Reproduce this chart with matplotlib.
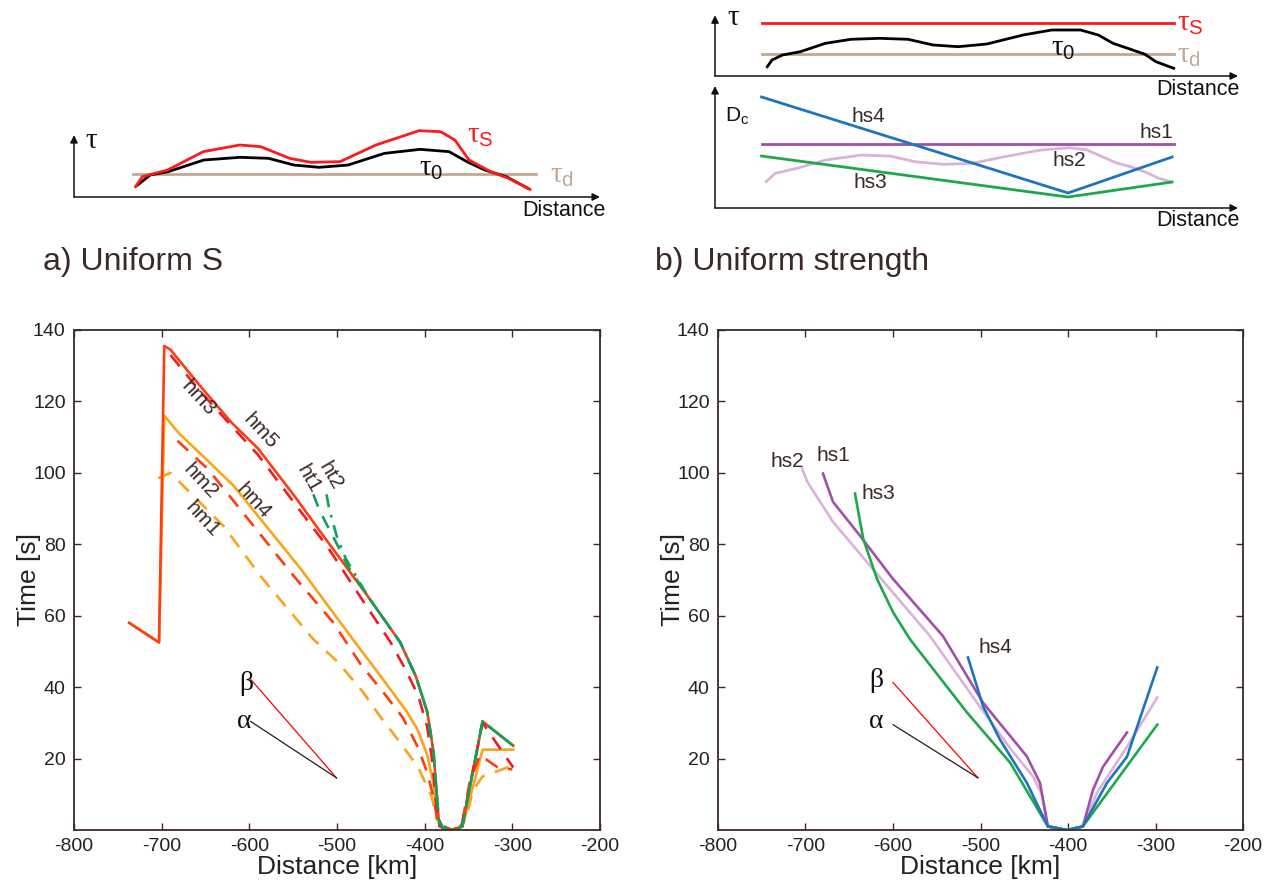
import numpy as np
import matplotlib
matplotlib.use("Agg")
import matplotlib.pyplot as plt

plt.rcParams['font.family'] = ['Liberation Sans', 'DejaVu Sans']
plt.rcParams['axes.unicode_minus'] = False
plt.rcParams['mathtext.fontset'] = 'custom'
plt.rcParams['mathtext.rm'] = 'Liberation Serif'
plt.rcParams['mathtext.it'] = 'Liberation Serif:italic'
plt.rcParams['mathtext.sf'] = 'Liberation Sans'

ink = '#3a2a25'
red = '#ff3c12'
red2 = '#ee1c24'
orange = '#faa41a'
tgreen = '#12a05c'
green = '#1fa84a'
blue = '#1f74c0'
purple = '#a050aa'
lilac = '#dbb2da'
tan = '#c2a892'

# ---- schematic a) : tau_s, tau_0 and tau_d along distance (arbitrary units 0-100, 0-10)
sa_x_taus = [11.7, 13.0, 17.8, 24.6, 31.5, 35.5, 41.0, 45.1, 50.6, 57.4, 65.6, 69.7, 72.4, 75.1, 79.2, 82.6, 86.7]
sa_y_taus = [1.43, 2.82, 3.75, 6.30, 7.22, 6.99, 5.37, 4.81, 4.91, 7.22, 9.21, 9.07, 7.92, 5.14, 3.52, 2.59, 1.06]
sa_x_tau0 = [12.1, 14.5, 17.9, 24.7, 31.6, 37.0, 41.8, 46.6, 52.1, 59.0, 65.8, 71.3, 74.7, 78.1, 82.2, 86.3]
sa_y_tau0 = [1.67, 3.06, 3.52, 5.14, 5.51, 5.37, 4.44, 4.12, 4.44, 6.06, 6.62, 6.30, 4.91, 3.75, 2.82, 1.20]
sa_taud_x = [11.3, 87.8]
sa_taud = 3.15

# ---- schematic b) top : stresses
sb_x_tau0 = [10.0, 10.9, 12.9, 16.3, 21.1, 26.0, 31.5, 36.9, 41.7, 46.5, 52.0, 58.9, 64.4, 69.9, 73.3, 76.1, 79.5, 82.2, 84.3, 87.7]
sb_y_tau0 = [1.41, 2.42, 3.18, 3.68, 4.95, 5.56, 5.71, 5.56, 4.70, 4.44, 4.85, 6.21, 6.97, 6.97, 6.21, 4.95, 4.04, 3.29, 2.17, 1.17]
sb_line_x = [8.9, 87.7]
sb_taus = 8.03
sb_taud = 3.33

# ---- schematic b) bottom : Dc distributions
dc_hs4_x = [8.9, 67.5, 87.4]
dc_hs4_y = [9.1, 1.23, 4.18]
dc_hs1_x = [8.9, 87.7]
dc_hs1_y = [5.25, 5.25]
dc_hs3_x = [8.9, 67.5, 87.4]
dc_hs3_y = [4.26, 0.9, 2.13]
dc_hs2_x = [9.8, 11.5, 15.6, 21.1, 28.0, 33.5, 38.3, 43.8, 49.2, 55.4, 62.3, 67.8, 71.2, 74.0, 76.7, 79.4, 82.1, 84.9, 87.0]
dc_hs2_y = [2.16, 2.84, 3.25, 3.93, 4.34, 4.26, 3.79, 3.58, 3.66, 4.21, 4.75, 4.94, 4.75, 4.21, 3.71, 3.39, 2.98, 2.43, 2.16]

# ---- panel a) : rupture time vs distance
hm5_x = [-737, -703, -697, -690, -655, -620, -590, -550, -510, -465, -428, -410, -397, -390, -384, -380, -367, -357, -334, -299]
hm5_y = [58, 52.5, 135.5, 134.5, 124, 114, 106.8, 94, 80.5, 65.5, 52.6, 43, 33, 22, 3, 0.8, 0, 1, 30.4, 23.6]
hm4_x = [-737, -703, -697, -680, -650, -618, -541, -482, -450, -420, -408, -397, -390, -385, -380, -367, -357, -345, -334, -299]
hm4_y = [58, 52.5, 116, 111, 104, 96.4, 73, 53.4, 43, 33, 28, 21, 13, 3, 0.5, 0, 1, 12, 22.5, 22.5]
hm3_x = [-690, -655, -590, -510, -470, -439, -422, -407, -397, -391, -387, -383, -370, -358, -334, -299]
hm3_y = [133, 122.5, 105, 79, 64, 52.6, 45, 37.4, 28.7, 18.8, 7.6, 1, 0, 1, 30, 17.5]
hm2_x = [-682, -647, -598, -549, -504, -473, -447, -425, -408, -397, -390, -385, -370, -358, -349, -337, -316, -300]
hm2_y = [109, 101, 86, 71, 58, 46.4, 38.5, 31.5, 23.3, 16, 9.3, 2, 0, 1, 13, 21, 17.4, 17]
hm1_x = [-704, -690, -629, -587, -527, -499, -470, -450, -428, -407, -392, -386, -378, -362, -353, -345, -334, -300]
hm1_y = [98.5, 100, 85, 71, 53.4, 47, 38.5, 31.5, 24.5, 17.4, 9.3, 3, 0.5, 0.5, 3, 11, 15, 18]
ht1_x = [-527, -520, -500, -488, -465, -428, -410, -397, -390, -384, -380, -367, -357, -334, -299]
ht1_y = [94, 89.5, 80, 74, 65.5, 52.6, 43, 33, 22, 3, 0.8, 0, 1, 30.4, 23.6]
ht2_x = [-512, -509, -500, -490, -465, -428, -410, -397, -390, -384, -380, -367, -357, -334, -299]
ht2_y = [94, 90, 82, 76, 65.5, 52.6, 43, 33, 22, 3, 0.8, 0, 1, 30.4, 23.6]

# ---- panel b)
hs1_x = [-680, -668.6, -637.7, -600, -542.9, -497, -470, -447, -432, -423, -401, -383, -371.5, -360, -332.6]
hs1_y = [99.8, 91.9, 82.4, 70.3, 54.3, 35.6, 27.5, 20.6, 13.2, 1, 0, 1, 11.2, 17.7, 27.3]
hs2_x = [-704, -698, -668.6, -629.7, -557.7, -505, -465, -440, -430, -423, -401, -383, -367, -332.6, -298]
hs2_y = [101.2, 97.5, 86.3, 75, 54.3, 36, 22.5, 15, 10, 1, 0, 1, 10.4, 23.3, 37.1]
hs3_x = [-643.4, -634, -618.3, -600, -580.6, -515.4, -466, -423, -401, -383, -298]
hs3_y = [94.2, 81.5, 70.3, 61, 53.4, 32.9, 18.8, 1, 0, 1, 29.5]
hs4_x = [-514.3, -497, -477.7, -447, -423, -401, -383, -355.4, -332.6, -298]
hs4_y = [48.3, 34.6, 25.3, 13.2, 1, 0, 1, 13.2, 20.5, 45.5]

# slope guides (beta, alpha)
a_beta_x, a_beta_y = [-598.5, -500.6], [42.2, 14.6]
a_alpha_x, a_alpha_y = [-598.5, -500.6], [30.4, 14.6]
b_beta_x, b_beta_y = [-600, -502.9], [41.3, 14.6]
b_alpha_x, b_alpha_y = [-600, -502.9], [29.5, 14.6]

xticks = [-800, -700, -600, -500, -400, -300, -200]
yticks = [20, 40, 60, 80, 100, 120, 140]

W, H = 1268, 884
fig = plt.figure(figsize=(W / 100, H / 100), dpi=100)

def fbox(x0, y0, x1, y1):
    # pixel box -> figure fraction rect
    return [x0 / W, 1 - y1 / H, (x1 - x0) / W, (y1 - y0) / H]

def arrows(ax, ytop):
    ap = dict(arrowstyle='-|>', color='#111111', lw=1.1, mutation_scale=11, shrinkA=0, shrinkB=0)
    ax.annotate('', xy=(1, 0), xytext=(0, 0), xycoords='axes fraction', arrowprops=ap)
    ax.annotate('', xy=(0, ytop), xytext=(0, 0), xycoords='axes fraction', arrowprops=ap)

tau = r'$\mathrm{\tau}$'
taus = r'$\mathrm{\tau}_\mathsf{S}$'
tau0 = r'$\mathrm{\tau}_\mathsf{0}$'
taud = r'$\mathrm{\tau}_\mathsf{d}$'

# ---------- schematic a
sa = fig.add_axes(fbox(74, 125, 600, 197))
sa.set_xlim(0, 100); sa.set_ylim(0, 10); sa.axis('off')
arrows(sa, 0.86)
sa.plot(sa_taud_x, [sa_taud, sa_taud], color=tan, lw=2)
sa.plot(sa_x_tau0, sa_y_tau0, color='black', lw=2)
sa.plot(sa_x_taus, sa_y_taus, color='#ff1a1a', lw=2)
sa.text(2.0, 7.9, tau, fontsize=21, va='center', color='#111111')
sa.text(74.8, 8.6, taus, fontsize=21, va='center', color='#ff1a1a')
sa.text(65.6, 4.0, tau0, fontsize=21, va='center', color='#111111')
sa.text(90.5, 3.0, taud, fontsize=21, va='center', color=tan)
sa.text(101, -1.9, 'Distance', fontsize=15.5, ha='right', va='center', color='#111111')

# ---------- schematic b top
sb = fig.add_axes(fbox(715, 10, 1238, 76))
sb.set_xlim(0, 100); sb.set_ylim(0, 10); sb.axis('off')
arrows(sb, 0.92)
sb.plot(sb_line_x, [sb_taus, sb_taus], color='#ff1a1a', lw=2)
sb.plot(sb_line_x, [sb_taud, sb_taud], color=tan, lw=2)
sb.plot(sb_x_tau0, sb_y_tau0, color='black', lw=2)
sb.text(2.2, 9.0, tau, fontsize=21, va='center', color='#111111')
sb.text(88.3, 8.0, taus, fontsize=21, va='center', color='#ff1a1a')
sb.text(88.3, 3.2, taud, fontsize=21, va='center', color=tan)
sb.text(64.3, 4.3, tau0, fontsize=21, va='center', color='#111111')
sb.text(100.3, -2.1, 'Distance', fontsize=15.5, ha='right', va='center', color='#111111')

# ---------- schematic b bottom
sc = fig.add_axes(fbox(715, 86, 1238, 208))
sc.set_xlim(0, 100); sc.set_ylim(0, 10); sc.axis('off')
arrows(sc, 1.0)
sc.plot(dc_hs2_x, dc_hs2_y, color=lilac, lw=2)
sc.plot(dc_hs1_x, dc_hs1_y, color=purple, lw=2)
sc.plot(dc_hs3_x, dc_hs3_y, color=green, lw=2)
sc.plot(dc_hs4_x, dc_hs4_y, color=blue, lw=2)
sc.text(2.0, 7.6, r'D$_\mathsf{c}$', fontsize=15, va='center', color='#111111')
sc.text(29.4, 7.46, 'hs4', fontsize=15, ha='center', va='center', color=ink)
sc.text(84.3, 6.15, 'hs1', fontsize=15, ha='center', va='center', color=ink)
sc.text(67.8, 3.93, 'hs2', fontsize=15, ha='center', va='center', color=ink)
sc.text(29.7, 2.05, 'hs3', fontsize=15, ha='center', va='center', color=ink)
sc.text(100.3, -1.0, 'Distance', fontsize=15.5, ha='right', va='center', color='#111111')

fig.text(43 / W, 1 - 262 / H, 'a) Uniform S', fontsize=23, va='center', color=ink)
fig.text(655 / W, 1 - 262 / H, 'b) Uniform strength', fontsize=23, va='center', color=ink)

# ---------- main panels
def style(ax):
    ax.set_xlim(-800, -200)
    ax.set_ylim(0, 140)
    ax.set_xticks(xticks)
    ax.set_yticks(yticks)
    ax.tick_params(direction='in', top=True, right=True, length=5, width=1,
                   color=ink, labelcolor='#222222', labelsize=14, pad=6)
    for s in ax.spines.values():
        s.set_color(ink)
        s.set_linewidth(1.3)
    ax.set_xlabel('Distance [km]', fontsize=19, color='#222222', labelpad=0)
    ax.set_ylabel('Time [s]', fontsize=19, color='#222222', labelpad=-6)

greek = dict(fontsize=20, ha='center', va='center', color='#111111', family='Liberation Serif')

axa = fig.add_axes(fbox(74, 330, 600, 830))
style(axa)
lw = 1.9
axa.plot(hm4_x, hm4_y, color=orange, lw=lw)
axa.plot(hm1_x, hm1_y, color=orange, lw=lw, dashes=(5.5, 4))
axa.plot(hm5_x, hm5_y, color=red, lw=lw)
axa.plot(hm2_x, hm2_y, color=red, lw=lw, dashes=(5.5, 4))
axa.plot(hm3_x, hm3_y, color=red2, lw=lw, dashes=(5.5, 4))
axa.plot(ht1_x, ht1_y, color=tgreen, lw=lw, dashes=(5, 4))
axa.plot(ht2_x, ht2_y, color=tgreen, lw=lw, dashes=(5, 3, 1, 3))
axa.plot(a_beta_x, a_beta_y, color='red', lw=0.9)
axa.plot(a_alpha_x, a_alpha_y, color='#2a1a15', lw=0.9)
axa.text(-604, 41.0, 'β', **greek)
axa.text(-606, 30.5, 'α', **greek)
lab = dict(fontsize=15, ha='center', va='center', color=ink, rotation_mode='anchor')
axa.text(-657.7, 120.9, 'hm3', rotation=-47, **lab)
axa.text(-587, 111.6, 'hm5', rotation=-47, **lab)
axa.text(-655.4, 97.8, 'hm2', rotation=-47, **lab)
axa.text(-595, 92.2, 'hm4', rotation=-47, **lab)
axa.text(-653, 87.1, 'hm1', rotation=-47, **lab)
axa.text(-532.5, 98.4, 'ht1', rotation=-60, **lab)
axa.text(-507.4, 99.2, 'ht2', rotation=-60, **lab)

axb = fig.add_axes(fbox(718, 330, 1243, 830))
style(axb)
axb.plot(hs2_x, hs2_y, color=lilac, lw=lw)
axb.plot(hs1_x, hs1_y, color=purple, lw=lw)
axb.plot(hs3_x, hs3_y, color=green, lw=lw)
axb.plot(hs4_x, hs4_y, color=blue, lw=lw)
axb.plot(b_beta_x, b_beta_y, color='red', lw=0.9)
axb.plot(b_alpha_x, b_alpha_y, color='#2a1a15', lw=0.9)
axb.text(-619.4, 41.8, 'β', **greek)
axb.text(-619.4, 30.3, 'α', **greek)
lab2 = dict(fontsize=15, ha='center', va='center', color=ink)
axb.text(-721, 103.2, 'hs2', **lab2)
axb.text(-668.6, 104.8, 'hs1', **lab2)
axb.text(-617, 94.2, 'hs3', **lab2)
axb.text(-483, 51.2, 'hs4', **lab2)

fig.savefig('out.png', dpi=100)
